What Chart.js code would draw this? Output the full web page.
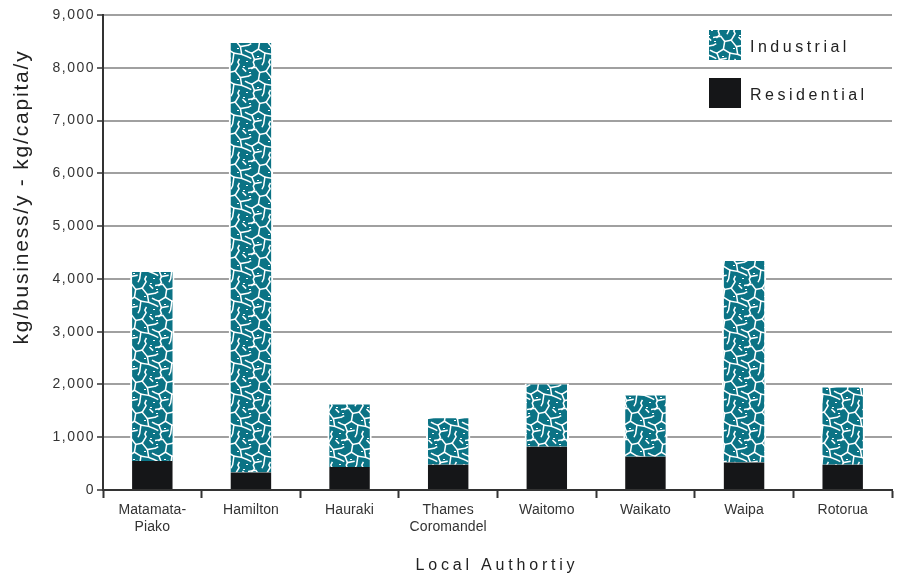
<!DOCTYPE html>
<html>
<head>
<meta charset="utf-8">
<script src="https://cdn.jsdelivr.net/npm/chart.js@4.4.1/dist/chart.umd.min.js"></script>
<style>
  html, body { margin: 0; padding: 0; background: #ffffff; }
  #wrap { position: relative; width: 900px; height: 581px; }
</style>
</head>
<body>
<div id="wrap"><canvas id="c" width="900" height="581"></canvas></div>
<script>
// ---- data ----
const categories = [["Matamata-", "Piako"], "Hamilton", "Hauraki", ["Thames", "Coromandel"], "Waitomo", "Waikato", "Waipa", "Rotorua"];
const residential = [550, 330, 435, 480, 820, 630, 520, 480];
const industrial = [3600, 8160, 1205, 900, 1200, 1180, 3840, 1480];
const yTicks = [0, 1000, 2000, 3000, 4000, 5000, 6000, 7000, 8000, 9000];
const seriesNames = ["Industrial", "Residential"];
const xTitle = "Local Authortiy";
const yTitle = "kg/business/y - kg/capita/y";

// ---- styles ----
const TEAL = "#0b7385";
const BLACK = "#151618";

function makePattern() {
  const S = 1.3;
  const N = Math.round(24 * S);
  const t = document.createElement("canvas");
  t.width = N; t.height = N;
  const g = t.getContext("2d");
  g.fillStyle = TEAL;
  g.fillRect(0, 0, N, N);
  g.strokeStyle = "#ffffff";
  g.lineWidth = 1.5;
  g.lineCap = "square";
  const paths = [
    [0,5, 6,4, 9,8, 14,7], [14,7, 17,2, 16,0], [16,24, 17,22],
    [14,7, 18,12, 24,11], [0,11, 2,10],
    [9,8, 8,14, 3,17, 0,16], [24,16, 22,15],
    [8,14, 13,17, 12,24], [12,0, 11,2],
    [18,12, 19,18, 13,17], [19,18, 24,20], [0,20, 2,21],
    [3,17, 5,22, 4,24], [4,0, 5,3, 3,5], [5,22, 10,21],
    [20,5, 22,7]
  ];
  paths.forEach(p => {
    g.beginPath();
    g.moveTo(p[0] * S, p[1] * S);
    for (let i = 2; i < p.length; i += 2) g.lineTo(p[i] * S, p[i + 1] * S);
    g.stroke();
  });
  g.fillStyle = "#ffffff";
  [[20,3],[7,19],[15,13],[1,8],[22,23]].forEach(s => g.fillRect(Math.round(s[0] * S), Math.round(s[1] * S), 2, 1));
  return g.createPattern(t, "repeat");
}

const ctx = document.getElementById("c").getContext("2d");
const pattern = makePattern();

const spacingPlugin = {
  id: "spacing",
  beforeDraw(chart) { chart.ctx.letterSpacing = "1.5px"; },
  afterDatasetsDraw(chart) { chart.ctx.letterSpacing = "0.1px"; },
  afterDraw(chart) {
    const c = chart.ctx;
    c.save();
    // legend
    const items = [
      { name: seriesNames[0], fill: pattern, y: 30 },
      { name: seriesNames[1], fill: BLACK, y: 78 }
    ];
    items.forEach(it => {
      c.fillStyle = it.fill;
      c.fillRect(709, it.y, 32, 30);
      c.fillStyle = "#222222";
      c.font = "16px 'Liberation Sans', Arial, sans-serif";
      c.letterSpacing = "3.5px";
      c.textAlign = "left";
      c.textBaseline = "middle";
      c.fillText(it.name, 750, it.y + 18);
    });
    // x title
    c.letterSpacing = "3.8px";
    c.font = "16px 'Liberation Sans', Arial, sans-serif";
    c.fillStyle = "#222222";
    c.textAlign = "center";
    c.textBaseline = "middle";
    c.fillText(xTitle, 497, 566);
    // y title
    c.translate(22, 197);
    c.rotate(-Math.PI / 2);
    c.letterSpacing = "1.8px";
    c.font = "21px 'Liberation Sans', Arial, sans-serif";
    c.fillText(yTitle, 0, 0);
    c.restore();
    c.letterSpacing = "0px";
  }
};

new Chart(ctx, {
  type: "bar",
  data: {
    labels: categories,
    datasets: [
      {
        label: seriesNames[1],
        data: residential,
        backgroundColor: BLACK,
        borderWidth: 0,
        barPercentage: 0.41,
        categoryPercentage: 1.0,
        order: 1
      },
      {
        label: seriesNames[0],
        data: industrial,
        backgroundColor: pattern,
        borderColor: "#ffffff",
        borderWidth: { top: 1, left: 2, right: 2, bottom: 0 },
        barPercentage: 0.45,
        categoryPercentage: 1.0,
        order: 2
      }
    ]
  },
  options: {
    responsive: false,
    animation: false,
    devicePixelRatio: 1,
    layout: { padding: { top: 15, right: 8, left: 0, bottom: 0 } },
    plugins: {
      legend: { display: false },
      tooltip: { enabled: false },
      title: { display: false }
    },
    scales: {
      x: {
        stacked: true,
        afterFit(scale) { scale.height = 91; },
        grid: {
          offset: true,
          drawOnChartArea: false,
          drawTicks: true,
          tickLength: 8,
          tickColor: "#333333",
          tickWidth: 2
        },
        border: { display: true, color: "#333333", width: 2 },
        ticks: {
          z: 1,
          color: "#333333",
          padding: 4,
          maxRotation: 0,
          autoSkip: false,
          font: { family: "'Liberation Sans', Arial, sans-serif", size: 14, lineHeight: 1.2 }
        }
      },
      y: {
        stacked: true,
        min: 0,
        max: 9000,
        afterFit(scale) { scale.width = 103; },
        afterBuildTicks(scale) { scale.ticks = yTicks.map(v => ({ value: v })); },
        grid: {
          color: "#a0a0a0",
          lineWidth: 2,
          drawTicks: true,
          tickLength: 6,
          tickColor: "#333333",
          tickWidth: 1.5
        },
        border: { display: true, color: "#333333", width: 2 },
        ticks: {
          color: "#333333",
          padding: 2,
          font: { family: "'Liberation Sans', Arial, sans-serif", size: 14 },
          callback: v => v.toLocaleString("en-US")
        }
      }
    }
  },
  plugins: [spacingPlugin]
});
</script>
</body>
</html>
